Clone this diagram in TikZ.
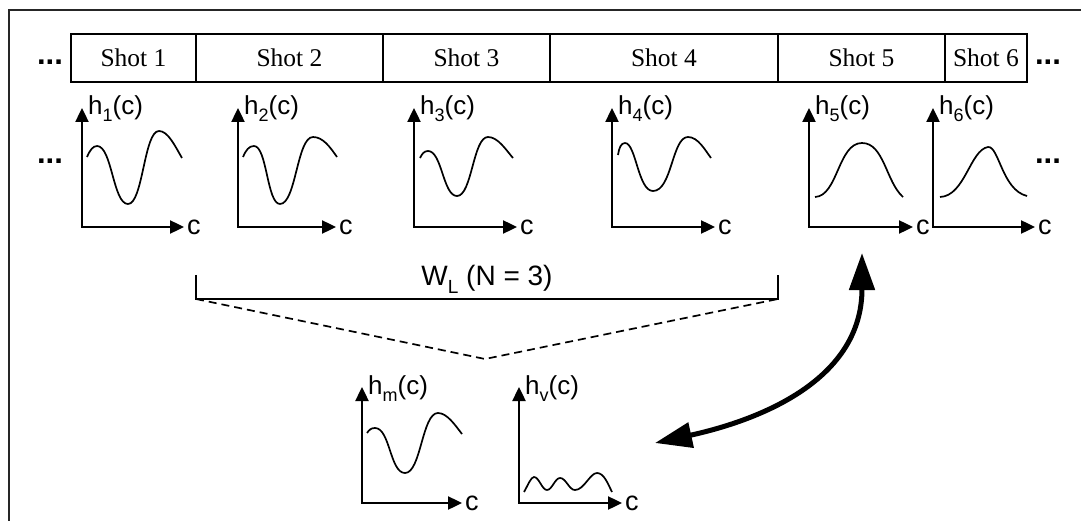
\documentclass[tikz,border=0pt]{standalone}
\usepackage{fontspec}
\setmainfont{Liberation Serif}
\setsansfont{Liberation Sans}
\usetikzlibrary{arrows.meta}
\newcommand\mysub[1]{\raisebox{-7pt}{\fontsize{18}{18}\selectfont #1}}
\tikzset{
  ax/.style={line width=2.4pt, {Triangle[length=14pt,width=13pt]}-{Triangle[length=14pt,width=13pt]}},
  crv/.style={line width=1.7pt},
  shotbox/.style={draw, line width=1.7pt, minimum height=48pt, inner sep=0pt, font=\fontsize{25.5}{30}\selectfont},
  hlab/.style={anchor=base west, inner sep=0pt, font=\sffamily\fontsize{26}{30}\selectfont},
  clab/.style={anchor=west, inner sep=0pt, font=\sffamily\fontsize{27}{30}\selectfont},
  dotsnode/.style={inner sep=0pt, font=\sffamily\bfseries\fontsize{31}{30}\selectfont},
  bigarrow/.style={line width=5pt, {Triangle[length=37pt,width=25pt]}-{Triangle[length=37pt,width=25pt]}},
  dashline/.style={line width=1.7pt, dash pattern=on 8pt off 5pt},
  bracket/.style={line width=1.7pt},
  frameline/.style={line width=2.2pt, black!85},
}
% graph: #1 name, #2 axis x, #3 top y, #4 bottom y, #5 tip x, #6 label
\newcommand\mygraph[6]{%
  \coordinate (#1top) at (#2,#3);
  \coordinate (#1o) at (#2,#4);
  \coordinate (#1tip) at (#5,#4);
  \draw[ax] (#1top) -- (#1o) -- (#1tip);
  \node[hlab] (#1lab) at (#2+6,#3+7) {#6};
  \node[clab] (#1c) at (#5+3,#4) {c};
}
\begin{document}
\begin{tikzpicture}[x=1pt,y=-1pt]
\useasboundingbox (0,0) rectangle (1081,521);
% frame
\draw[frameline] (1081,10) -- (9,10) -- (9,521);
% shots
\node[shotbox, minimum width=125pt] (s1) at (133.5,58) {Shot 1};
\node[shotbox, minimum width=187pt] (s2) at (289.5,58) {Shot 2};
\node[shotbox, minimum width=167pt] (s3) at (466.5,58) {Shot 3};
\node[shotbox, minimum width=228pt] (s4) at (664,58) {Shot 4};
\node[shotbox, minimum width=167pt] (s5) at (861.5,58) {Shot 5};
\node[shotbox, minimum width=82pt] (s6) at (986,58) {Shot 6};
\node[dotsnode] (d1) at (50,62) {...};
\node[dotsnode] (d2) at (1048,62) {...};
\node[dotsnode] (d3) at (50,161) {...};
\node[dotsnode] (d4) at (1048,161) {...};
% graphs
\mygraph{g1}{82}{108}{227}{184}{h\mysub{1}(c)}
\mygraph{g2}{238}{108}{227}{336}{h\mysub{2}(c)}
\mygraph{g3}{414}{108}{227}{517}{h\mysub{3}(c)}
\mygraph{g4}{612}{108}{227}{715}{h\mysub{4}(c)}
\mygraph{g5}{809}{108}{227}{913}{h\mysub{5}(c)}
\mygraph{g6}{933}{108}{227}{1035}{h\mysub{6}(c)}
\mygraph{gm}{362}{387}{503}{462}{h\mysub{m}(c)}
\mygraph{gv}{519}{387}{503}{622}{h\mysub{v}(c)}
% curves
\draw[crv] (87,157) .. controls (90,150) and (93,146) .. (97,146)
  .. controls (112,146) and (113,204) .. (128,204)
  .. controls (143,204) and (144,131) .. (159,131)
  .. controls (168,131) and (175,146) .. (182,158);
\draw[crv] (243,157) .. controls (246,150) and (249,146) .. (254,146)
  .. controls (267,146) and (267,204) .. (280,204)
  .. controls (296,204) and (297,137) .. (313,137)
  .. controls (323,137) and (330,147) .. (337,157);
\draw[crv] (420,158) .. controls (422,154) and (424,151) .. (428,151)
  .. controls (442,151) and (443,196) .. (457,196)
  .. controls (472,196) and (473,137) .. (488,137)
  .. controls (498,137) and (506,150) .. (513,158);
\draw[crv] (618,155) .. controls (619,148) and (621,143) .. (625,143)
  .. controls (636,143) and (638,191) .. (653,191)
  .. controls (672,191) and (672,137) .. (688,137)
  .. controls (698,137) and (705,150) .. (711,158);
\draw[crv] (815,197) .. controls (838,196) and (838,143) .. (862,143)
  .. controls (884,143) and (886,182) .. (903,197);
\draw[crv] (940,197) .. controls (965,196) and (970,150) .. (988,147)
  .. controls (999,146) and (1002,190) .. (1027,196);
\draw[crv] (367,433) .. controls (369,430) and (371,428) .. (375,428)
  .. controls (390,428) and (390,473) .. (405,473)
  .. controls (421,473) and (422,413) .. (438,413)
  .. controls (447,413) and (455,425) .. (462,434);
\draw[crv] (524,492) .. controls (528,485) and (531,477) .. (534,477)
  .. controls (539,477) and (542,490) .. (547,490)
  .. controls (552,490) and (555,478) .. (560,478)
  .. controls (566,478) and (569,490) .. (575,490)
  .. controls (584,490) and (590,473) .. (597,473)
  .. controls (604,473) and (608,484) .. (612,492);
% window bracket
\coordinate (bl) at (196,275);
\coordinate (blc) at (196,299);
\coordinate (brc) at (778,299);
\coordinate (br) at (778,275);
\coordinate (apex) at (485,359);
\draw[bracket] (bl) -- (blc) -- (brc) -- (br);
\node[anchor=base, inner sep=0pt, font=\sffamily\fontsize{28}{30}\selectfont] (wl) at (487,285) {W\raisebox{-9pt}{\fontsize{19}{19}\selectfont L} (N = 3)};
\draw[dashline] (blc) -- (apex) -- (brc);
% comparison arrow
\coordinate (ta) at (862,253);
\coordinate (tb) at (655,443);
\draw[bigarrow] (ta) .. controls (862,380) and (760,420) .. (tb);
\end{tikzpicture}
\end{document}
